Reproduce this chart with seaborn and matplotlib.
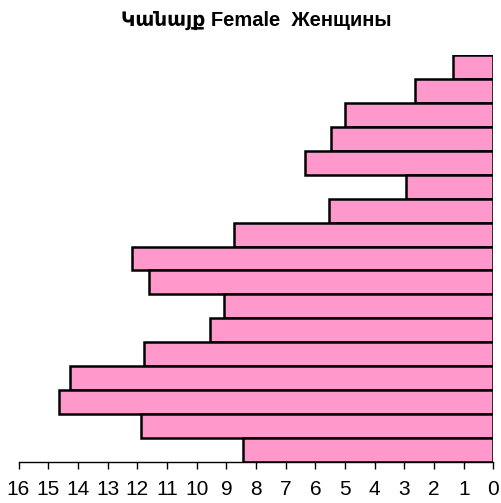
import matplotlib
matplotlib.use("Agg")
import numpy as np
import pandas as pd
import matplotlib.pyplot as plt
import seaborn as sns

# =========================================================
# DATA
# =========================================================

age_groups = ["80+", "75-79", "70-74", "65-69", "60-64", "55-59", "50-54",
              "45-49", "40-44", "35-39", "30-34", "25-29", "20-24",
              "15-19", "10-14", "5-9", "0-4"]
female = [1.38, 2.66, 5.0, 5.46, 6.35, 2.96, 5.54, 8.73, 12.17, 11.6,
          9.09, 9.54, 11.78, 14.27, 14.63, 11.87, 8.45]

x_ticks = list(range(0, 17))
title = "Կանայք Female  Женщины"

df = pd.DataFrame({"age": age_groups, "value": female})

# =========================================================
# PLOT
# =========================================================

sns.set_style("white")
plt.rcParams["font.family"] = ["Liberation Sans", "DejaVu Sans"]

fig = plt.figure(figsize=(5.01, 5.03), dpi=100)
ax = fig.add_axes([18.5 / 501, 1 - 462 / 503, (493.5 - 18.5) / 501, (462 - 55) / 503])

sns.barplot(data=df, x="value", y="age", orient="h", color="#FF99CC",
            saturation=1, width=1.0, edgecolor="black", linewidth=1.8, ax=ax)

ax.set_xlim(16, 0)
ax.set_ylim(len(age_groups) - 0.5, -0.5)
ax.set_xticks(x_ticks)
ax.set_xticklabels([str(t) for t in x_ticks], fontsize=15, color="black")
ax.set_yticks([])
ax.set_xlabel("")
ax.set_ylabel("")

for side in ["top", "left", "right"]:
    ax.spines[side].set_visible(False)
ax.spines["bottom"].set_color("black")
ax.spines["bottom"].set_linewidth(1.0)
ax.tick_params(axis="x", direction="out", length=5, width=1, color="black", pad=8,
               bottom=True)

fig.text(256 / 501, 1 - 20 / 503, title, ha="center", va="center", color="black",
         fontsize=14.5, fontweight="bold", family=["Liberation Sans", "DejaVu Sans"])

fig.savefig("out.png", dpi=100)
